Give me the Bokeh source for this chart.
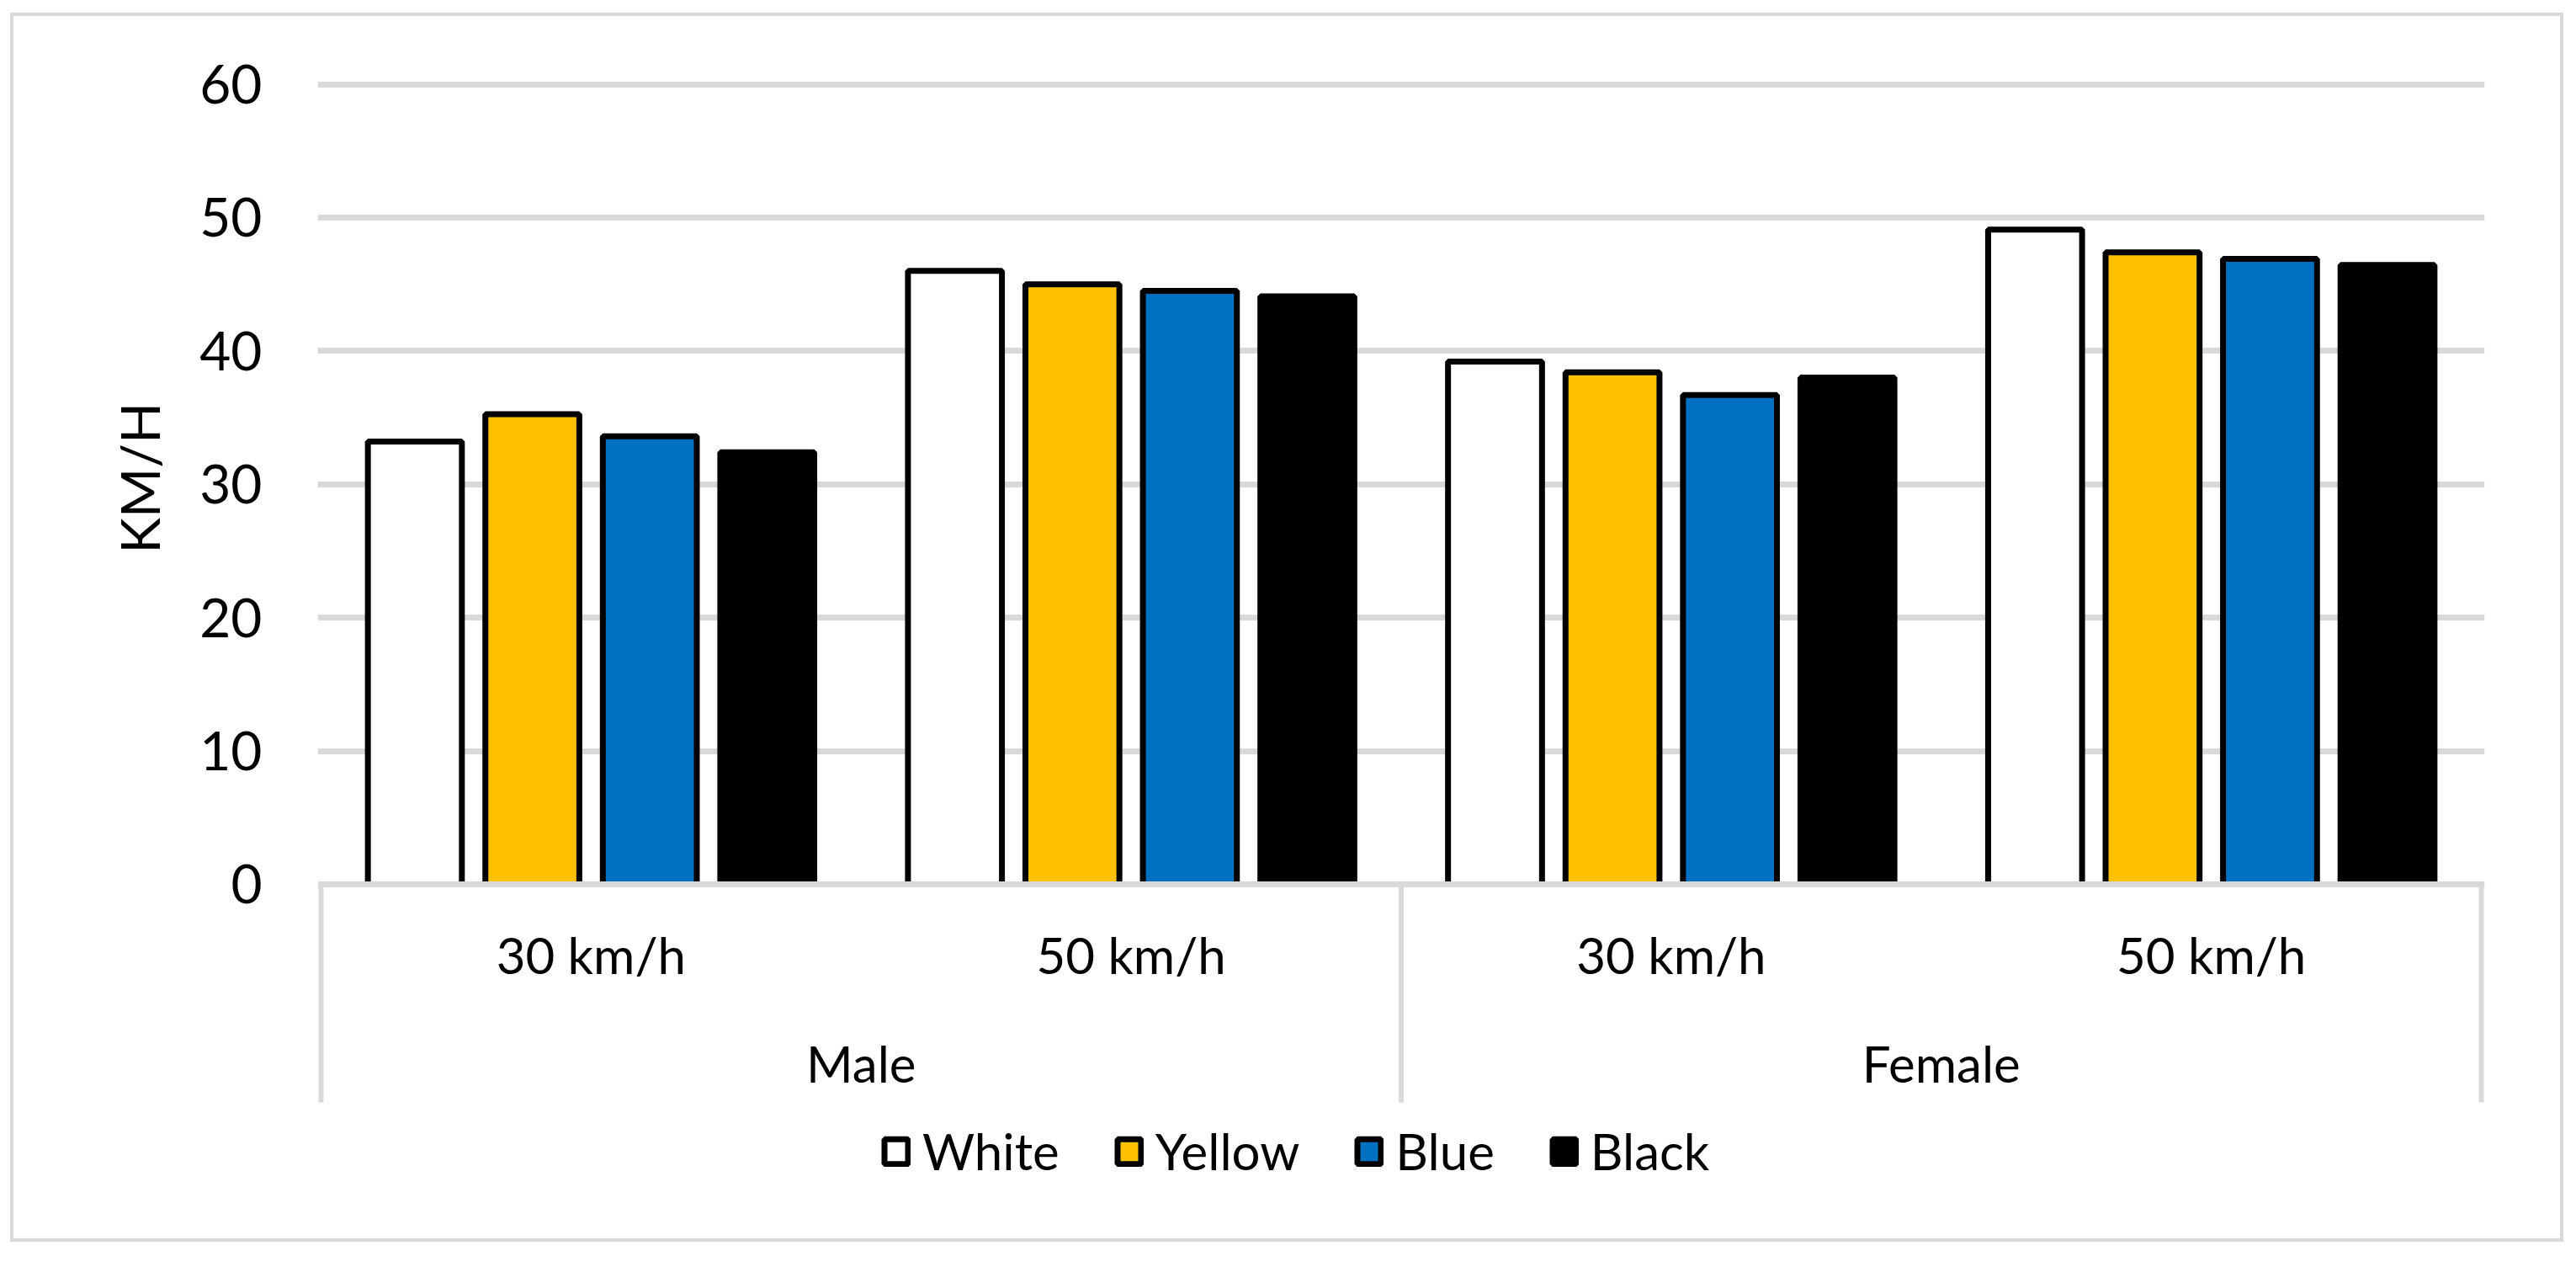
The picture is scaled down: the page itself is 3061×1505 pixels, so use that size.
from bokeh.plotting import figure
from bokeh.models import (FactorRange, Range1d, FixedTicker, Legend, LegendItem,
                          Title, ColumnDataSource)
from bokeh.transform import dodge
from bokeh.core.properties import value
from bokeh.embed import file_html
from bokeh.resources import INLINE

# ---- data ----
genders = ["Male", "Female"]
speeds = ["30 km/h", "50 km/h"]
series_names = ["White", "Yellow", "Blue", "Black"]
series_colors = ["#FFFFFF", "#FFC000", "#0070C0", "#000000"]
white = [33.2, 46.0, 39.2, 49.1]
yellow = [35.25, 45.0, 38.4, 47.4]
blue = [33.6, 44.5, 36.7, 46.9]
black = [32.4, 44.1, 38.0, 46.45]
y_ticks = [0, 10, 20, 30, 40, 50, 60]
y_label = "KM/H"

FONT = "Lato"
GRID = "#D9D9D9"

factors = [(g, s) for g in genders for s in speeds]
n = len(factors)

x_range = FactorRange(*factors, factor_padding=0, group_padding=0,
                      subgroup_padding=0, range_padding=0.0031,
                      range_padding_units="percent")
y_range = Range1d(-26.52, 60.48)

p = figure(x_range=x_range, y_range=y_range, width=3034, height=1460,
           output_backend="svg", toolbar_location=None,
           min_border_left=361, min_border_right=98,
           min_border_top=73, min_border_bottom=9)
p.outline_line_color = None
p.styles = {"border": "4px solid #D9D9D9", "margin-left": "12px",
            "margin-top": "15px"}

# axes
p.xaxis.visible = False
p.xgrid.visible = False
yax = p.yaxis[0]
yax.ticker = FixedTicker(ticks=y_ticks)
yax.axis_line_color = None
yax.major_tick_line_color = None
yax.minor_tick_line_color = None
yax.major_tick_out = 0
yax.major_tick_in = 0
yax.major_label_standoff = 66
yax.major_label_text_font = FONT
yax.major_label_text_font_size = "64px"
yax.major_label_text_color = "#000000"

p.ygrid.ticker = FixedTicker(ticks=y_ticks)
p.ygrid.grid_line_color = GRID
p.ygrid.grid_line_width = 7

# bars
src = ColumnDataSource(dict(x=factors, White=white, Yellow=yellow,
                            Blue=blue, Black=black))
step = 0.2175
bar_w = 0.174
renderers = []
k = len(series_names)
for i, (name, col) in enumerate(zip(series_names, series_colors)):
    r = p.vbar(x=dodge("x", (i - (k - 1) / 2) * step, range=p.x_range),
               top=name, bottom=0, width=bar_w, source=src,
               fill_color=col, line_color="#000000", line_width=7)
    renderers.append(r)

# category box (Excel style multi-level axis)
box_bottom = -16.35
p.segment(x0=[0], y0=[0], x1=[n], y1=[0], line_color=GRID, line_width=7)
bounds = [j * len(speeds) for j in range(len(genders) + 1)]
p.segment(x0=bounds, y0=[0] * len(bounds), x1=bounds,
          y1=[box_bottom] * len(bounds), line_color=GRID, line_width=6)

p.text(x=factors, y=[-5.3] * n, text=[s for _, s in factors],
       text_font=value(FONT), text_font_size="60px", text_color="#000000",
       text_align="center", text_baseline="middle")
p.text(x=genders, y=[-13.45] * len(genders), text=genders,
       text_font=value(FONT), text_font_size="60px", text_color="#000000",
       text_align="center", text_baseline="middle")

# y axis title, centred on the 0..60 value span
p.add_layout(Title(text=y_label, align="left", offset=813,
                   vertical_align="middle", standoff=60,
                   text_font=FONT, text_font_size="64px",
                   text_font_style="normal", text_color="#000000"), "left")

# legend
legend = Legend(items=[LegendItem(label=nm, renderers=[r])
                       for nm, r in zip(series_names, renderers)],
                orientation="horizontal", location=(670, 67),
                glyph_width=35, glyph_height=37, label_standoff=14,
                spacing=65, padding=0, margin=0,
                label_text_font=FONT, label_text_font_size="60px",
                label_text_color="#000000",
                border_line_color=None, background_fill_alpha=0)
p.add_layout(legend)

open("out.html", "w").write(file_html(p, INLINE))
